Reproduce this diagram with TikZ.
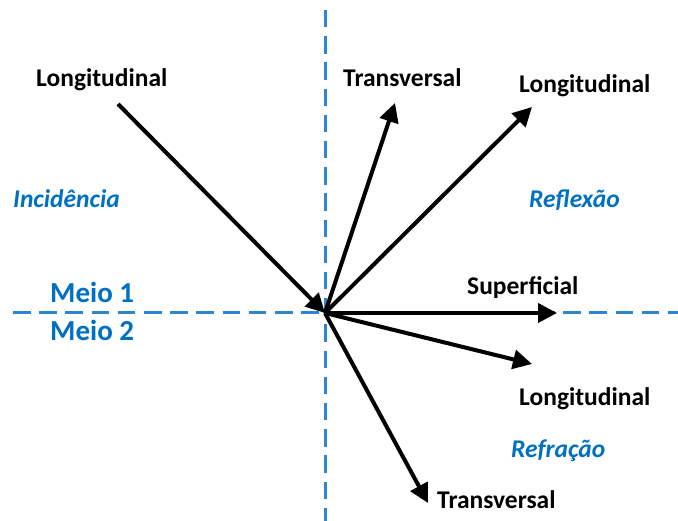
\documentclass[tikz,border=0pt]{standalone}
\usepackage{fontspec}
\setmainfont{Carlito}
\usetikzlibrary{arrows.meta}
\definecolor{txtblue}{RGB}{0,112,192}
\definecolor{lineblue}{RGB}{46,134,208}
\tikzset{
  axis/.style={draw=lineblue, line width=3pt, dash pattern=on 17.5pt off 8.7pt},
  wave/.style={draw=black, line width=4pt, -{Triangle[length=19pt,width=19pt]}, shorten >=0pt},
  lbl/.style={font=\fontsize{25.5}{29}\selectfont\bfseries, text=black, inner sep=0pt, anchor=base west},
  zone/.style={font=\fontsize{25.5}{29}\selectfont\bfseries\itshape, text=txtblue, inner sep=0pt, anchor=base west},
  meio/.style={font=\fontsize{29}{33}\selectfont\bfseries, text=txtblue, inner sep=0pt, anchor=base west},
}
\begin{document}
\begin{tikzpicture}[x=1pt,y=-1pt]
\useasboundingbox (0,0) rectangle (678,521);
% axes
\coordinate (vt) at (325,10);
\coordinate (vb) at (325,521);
\coordinate (hl) at (13,313);
\coordinate (hr) at (678,313);
\draw[axis] (vt) -- (vb);
\draw[axis] (hl) -- (hr);
% origin and arrow ends
\coordinate (O) at (325,313);
\coordinate (inc) at (118,104);
\coordinate (rt) at (395,103);
\coordinate (rl) at (532,107);
\coordinate (sup) at (557,313);
\coordinate (fl) at (532,364);
\coordinate (ft) at (428,503);
\draw[wave] (inc) -- (O);
\draw[wave] (O) -- (rt);
\draw[wave] (O) -- (rl);
\draw[wave] (O) -- (sup);
\draw[wave] (O) -- (fl);
\draw[wave] (O) -- (ft);
% labels
\node[lbl] (Linc) at (36,87) {Longitudinal};
\node[lbl] (Trefl) at (343,87) {Transversal};
\node[lbl] (Lrefl) at (519,93) {Longitudinal};
\node[lbl] (Sup) at (467,295) {Superficial};
\node[lbl] (Lrefr) at (519,406) {Longitudinal};
\node[lbl] (Trefr) at (437,508) {Transversal};
\node[zone] (Inc) at (13,208) {Incidência};
\node[zone] (Refl) at (529,208) {Reflexão};
\node[zone] (Refr) at (511,457) {Refração};
\node[meio] (M1) at (50,303) {Meio 1};
\node[meio] (M2) at (50,341) {Meio 2};
\end{tikzpicture}
\end{document}
